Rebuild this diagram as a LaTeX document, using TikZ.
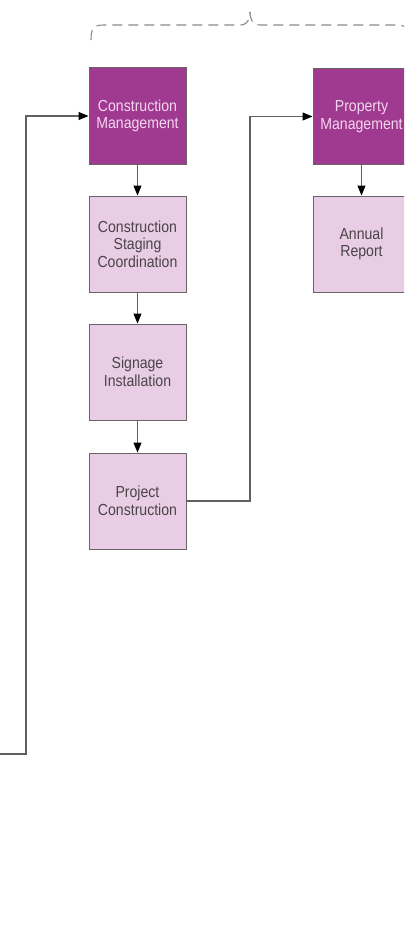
\documentclass[tikz,border=0pt]{standalone}
\usepackage{fontspec}
\setmainfont{Liberation Sans}
\newfontfamily\boxfont[FakeStretch=0.88]{Liberation Sans}
\usetikzlibrary{arrows.meta}
\definecolor{darkfill}{HTML}{A03A90}
\definecolor{lightfill}{HTML}{E9CDE4}
\definecolor{pinktext}{HTML}{F3D6EE}
\definecolor{greytext}{HTML}{4A4448}
\definecolor{edgegrey}{HTML}{6A6468}
\definecolor{linegrey}{HTML}{606060}
\definecolor{bracegrey}{HTML}{8A8A8A}
\begin{document}
\begin{tikzpicture}[x=1pt,y=-1pt,
  box/.style={draw=edgegrey, line width=1pt, minimum width=97pt, minimum height=96pt,
    align=center, inner sep=0pt, font=\boxfont\fontsize{16}{17.5}\selectfont},
  darkbox/.style={box, fill=darkfill, text=pinktext},
  lightbox/.style={box, fill=lightfill, text=greytext},
  conn/.style={draw=linegrey, line width=1.1pt},
  arr/.style={conn, -{Triangle[length=10pt,width=8pt,color=black]}},
  bracestyle/.style={draw=bracegrey, line width=1.1pt, dash pattern=on 10pt off 6pt}]
\useasboundingbox (0,0) rectangle (404,947);
\clip (0,0) rectangle (404,947);
\fill[white] (0,0) rectangle (404,947);
% brace
\draw[bracestyle] (91,40) .. controls (91,28) and (94,25) .. (104,25) -- (240,25)
  .. controls (247,25) and (250,20) .. (250,12);
\draw[bracestyle] (250,12) .. controls (250,20) and (253,25) .. (260,25) -- (396,25)
  .. controls (406,25) and (409,28) .. (409,40);
% nodes
\node[darkbox] (cm) at (137.5,116) {Construction\\Management};
\node[lightbox] (stg) at (137.5,244) {Construction\\Staging\\Coordination};
\node[lightbox] (sig) at (137.5,372) {Signage\\Installation};
\node[lightbox] (pc) at (137.5,501) {Project\\Construction};
\node[darkbox] (pm) at (361.5,116.5) {Property\\Management};
\node[lightbox] (ar) at (361.5,244) {Annual\\Report};
% connectors
\draw[arr] (cm.south) -- (stg.north);
\draw[arr] (stg.south) -- (sig.north);
\draw[arr] (sig.south) -- (pc.north);
\draw[arr] (pm.south) -- (ar.north);
\coordinate (lstart) at (0,754);
\draw[arr] (lstart) -- (26,754) |- (cm.west);
\draw[arr] (pc.east) -- (250,501) |- (pm.west);
\end{tikzpicture}
\end{document}
